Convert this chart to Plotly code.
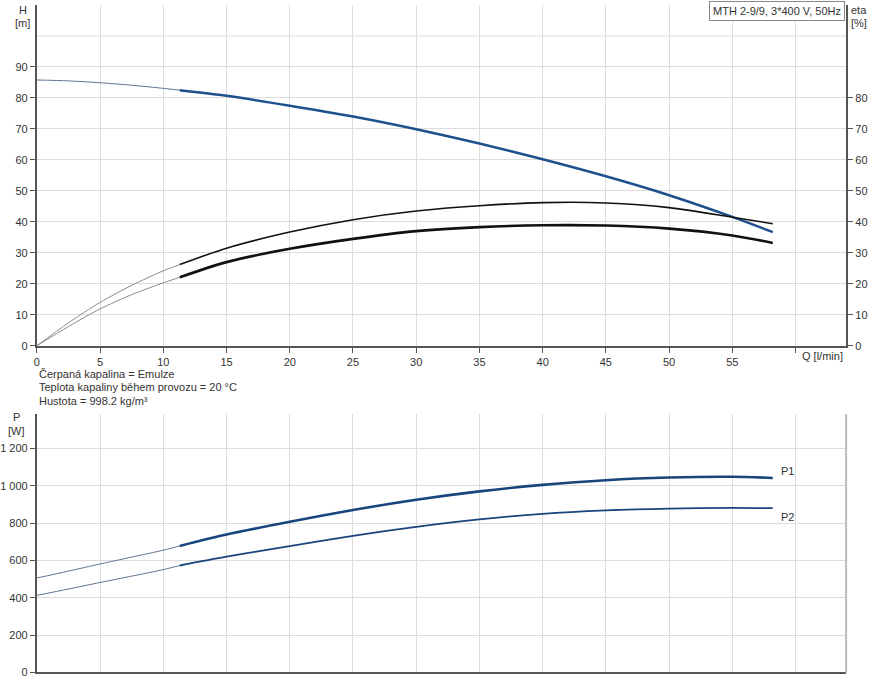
import plotly.graph_objects as go

# ---- data ----
Q = [0, 2.5, 5, 7.5, 10, 11.3, 15, 20, 25, 30, 35, 40, 45, 50, 55, 58.2]
H = [85.8, 85.5, 84.9, 84.1, 83.1, 82.5, 80.7, 77.5, 74.0, 69.9, 65.3, 60.2, 54.7, 48.6, 41.6, 36.7]
ETA_P = [0, 7.4, 14.0, 19.5, 24.2, 26.2, 31.5, 36.7, 40.7, 43.5, 45.2, 46.2, 46.1, 44.6, 41.5, 39.4]
ETA_T = [0, 6.2, 11.9, 16.5, 20.3, 22.1, 27.0, 31.3, 34.5, 37.0, 38.3, 38.9, 38.8, 37.8, 35.6, 33.2]
P1 = [506, 543, 581, 618, 655, 678, 739, 807, 870, 925, 970, 1005, 1030, 1044, 1048, 1042]
P2 = [413, 447, 482, 516, 551, 573, 620, 677, 732, 780, 820, 850, 868, 878, 882, 880]
Q_START = 11.3  # start of the operating range (thick lines)

X_TICKS = list(range(0, 65, 5))
X_LABELS = [str(v) for v in range(0, 60, 5)] + [""]
H_TICKS = list(range(0, 100, 10))
ETA_TICKS = list(range(0, 90, 10))
P_TICKS = [0, 200, 400, 600, 800, 1000, 1200]
P_LABELS = ["0", "200", "400", "600", "800", "1 000", "1 200"]

W, HGT = 873, 679
K = 0.989  # vertical compensation observed in rendering
def px(x): return x / W
def py(y): return max(0.0, min(1.0, 1 - (y / K) / HGT))

FONT = "Liberation Sans, Arial, sans-serif"
TXT = "#333333"
GRID = "#dcdcdc"
AX = "#555555"

i0 = Q.index(Q_START)

fig = go.Figure()

def add(xs, ys, color_thin, color, w_thick, xa, ya):
    fig.add_trace(go.Scatter(x=xs[:i0 + 1], y=ys[:i0 + 1], mode="lines",
                             line=dict(color=color_thin, width=1, shape="spline", smoothing=0.8),
                             xaxis=xa, yaxis=ya, showlegend=False, hoverinfo="skip"))
    fig.add_trace(go.Scatter(x=xs[i0:], y=ys[i0:], mode="lines",
                             line=dict(color=color, width=w_thick, shape="spline", smoothing=0.8),
                             xaxis=xa, yaxis=ya, showlegend=False))

BLUE = "#1e508e"
NAVY = "#17457c"
add(Q, H, "#5f7390", BLUE, 2.5, "x", "y")
add(Q, ETA_P, "#8a8a8a", "#111111", 1.6, "x", "y2")
add(Q, ETA_T, "#8a8a8a", "#111111", 2.6, "x", "y2")
add(Q, P1, "#5f7390", NAVY, 2.6, "x2", "y3")
add(Q, P2, "#5f7390", NAVY, 1.8, "x2", "y3")

xdom = [px(34), px(846)]
common_ax = dict(showline=True, linecolor=AX, linewidth=2, ticks="outside",
                 ticklen=5, tickcolor=AX, tickwidth=1, zeroline=False,
                 tickfont=dict(family=FONT, size=11, color=TXT))

fig.update_layout(
    width=W, height=HGT, margin=dict(l=0, r=0, t=0, b=0),
    paper_bgcolor="white", plot_bgcolor="white",
    font=dict(family=FONT, size=11, color=TXT),
    xaxis=dict(domain=xdom, range=[0, 64], tickvals=X_TICKS, ticktext=X_LABELS,
               showgrid=True, gridcolor=GRID, anchor="y", **common_ax),
    yaxis=dict(domain=[py(345), py(5)], range=[0, 110], tickvals=H_TICKS,
               showgrid=True, gridcolor=GRID, anchor="x", **common_ax),
    yaxis2=dict(overlaying="y", side="right", range=[0, 110], tickvals=ETA_TICKS,
                showgrid=False, anchor="x", **common_ax),
    xaxis2=dict(domain=xdom, range=[0, 64], tickvals=X_TICKS, showticklabels=False,
                showgrid=True, gridcolor=GRID, anchor="y3", showline=True,
                linecolor=AX, linewidth=2, ticks="", zeroline=False),
    yaxis3=dict(domain=[py(671), py(413)], range=[0, 1385], tickvals=P_TICKS,
                ticktext=P_LABELS, showgrid=True, gridcolor=GRID, anchor="x2", **common_ax),
)

# extra gridline at 100 m (no label) and right border of the lower plot
fig.add_shape(type="line", xref="x", yref="y", x0=0, x1=64, y0=100, y1=100,
              line=dict(color=GRID, width=1), layer="below")
fig.add_shape(type="line", xref="paper", yref="paper", x0=px(846), x1=px(846),
              y0=py(671), y1=py(413), line=dict(color="#bbbbbb", width=2))

def ann(text, x, y, xanchor="center", yanchor="middle", **kw):
    fig.add_annotation(text=text, x=x, y=y, xref="paper", yref="paper",
                       xanchor=xanchor, yanchor=yanchor, showarrow=False,
                       font=dict(family=FONT, size=11, color=TXT), **kw)

ann("H", px(20), py(10))
ann("[m]", px(20), py(23))
ann("eta", px(859), py(10))
ann("[%]", px(859), py(23))
ann("P", px(14), py(416))
ann("[W]", px(14), py(430))
ann("Q [l/min]", px(800), py(355), xanchor="left")
ann("Čerpaná kapalina = Emulze", px(34), py(373), xanchor="left")
ann("Teplota kapaliny během provozu = 20 °C", px(34), py(386), xanchor="left")
ann("Hustota = 998.2 kg/m³", px(34), py(400), xanchor="left")
ann("P1", px(779), py(470), xanchor="left")
ann("P2", px(779), py(516), xanchor="left")
ann("MTH 2-9/9, 3*400 V, 50Hz", px(845), py(1), xanchor="right", yanchor="top",
    bordercolor="#888888", borderwidth=1, borderpad=3, bgcolor="white")

fig.write_html("out.html", config={"displayModeBar": False},
               post_script="document.body.style.margin='0';document.body.style.overflow='hidden';")
